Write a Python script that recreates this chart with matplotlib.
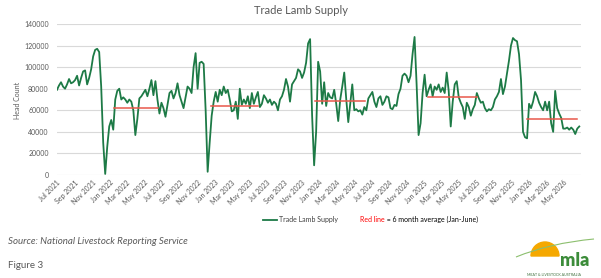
import matplotlib.pyplot as plt
import matplotlib.dates as mdates
from matplotlib.lines import Line2D
from matplotlib.patches import Wedge, PathPatch
from matplotlib.path import Path
import numpy as np
import pandas as pd

plt.rcParams['font.family'] = ['Lato', 'DejaVu Sans']

# weekly trade lamb supply (head), Jul 2021 - Jun 2026
fy22 = [79000, 83000, 86000, 82000, 80000, 84000, 89000, 85000, 86000, 88000,
        92000, 83000, 90000, 96000, 97000, 84000, 90000, 98000, 110000, 116000,
        117000, 114000, 82000, 30000, 1000, 26000, 45000, 51000, 42000, 70000,
        78000, 80000, 70000, 72000, 70000, 67000, 70000, 68000, 60000, 37000,
        52000, 71000, 73000, 76000, 79000, 73000, 80000, 88000, 74000, 87000,
        70000, 57000]
fy23 = [67000, 62000, 54000, 65000, 76000, 78000, 71000, 76000, 85000, 74000,
        68000, 62000, 72000, 82000, 80000, 76000, 100000, 113000, 80000, 104000,
        105000, 103000, 60000, 3000, 30000, 55000, 68000, 77000, 68000, 79000,
        74000, 82000, 76000, 79000, 70000, 59000, 60000, 68000, 52000, 80000,
        65000, 70000, 66000, 73000, 62000, 76000, 66000, 72000, 77000, 63000,
        66000, 74000]
fy24 = [71000, 67000, 70000, 65000, 68000, 66000, 60000, 70000, 73000, 79000,
        89000, 82000, 68000, 84000, 87000, 90000, 98000, 96000, 90000, 95000,
        104000, 122000, 126000, 55000, 9000, 40000, 105000, 96000, 66000, 86000,
        64000, 76000, 72000, 71000, 79000, 66000, 50000, 70000, 82000, 95000,
        70000, 49000, 67000, 84000, 60000, 61000, 59000, 60000, 56000, 63000,
        60000, 71000]
fy25 = [74000, 77000, 68000, 63000, 71000, 73000, 65000, 68000, 73000, 72000,
        62000, 61000, 65000, 64000, 75000, 80000, 92000, 94000, 92000, 86000,
        92000, 112000, 128000, 85000, 37000, 48000, 76000, 93000, 73000, 79000,
        84000, 73000, 82000, 79000, 84000, 77000, 81000, 76000, 95000, 78000,
        45000, 68000, 84000, 87000, 72000, 67000, 63000, 52000, 67000, 63000,
        55000, 61000]
fy26 = [65000, 76000, 71000, 67000, 68000, 62000, 59000, 61000, 60000, 63000,
        70000, 73000, 77000, 89000, 75000, 82000, 94000, 106000, 120000, 127000,
        125000, 124000, 112000, 88000, 40000, 35000, 34000, 66000, 62000, 68000,
        77000, 73000, 67000, 63000, 60000, 68000, 60000, 68000, 48000, 40000,
        78000, 62000, 57000, 53000, 43000, 43000, 44000, 42000, 44000, 42000,
        38000, 43000, 45000]
supply = fy22 + fy23 + fy24 + fy25 + fy26
weeks = pd.date_range('2021-07-01', periods=len(supply), freq='7D')

# Jan-June averages (red lines)
avg_start = pd.to_datetime(['2022-01-17', '2022-12-20', '2023-12-16', '2025-01-15', '2025-12-26'])
avg_end = pd.to_datetime(['2022-06-17', '2023-06-01', '2024-06-09', '2025-07-05', '2026-06-18'])
avg_value = [61900, 63700, 69000, 71900, 52200]

tick_dates = pd.date_range('2021-07-01', '2026-05-01', freq='2MS')
tick_labels = [d.strftime('%b %Y') for d in tick_dates]

W, H = 601, 278
fig = plt.figure(figsize=(W / 100, H / 100), dpi=100)
ax = fig.add_axes([57 / W, 1 - 175 / H, (581 - 57) / W, (175 - 24) / H])

ax.plot(weeks, supply, color='#1d7a46', lw=1.3, solid_joinstyle='round', zorder=3)
for s, e, v in zip(avg_start, avg_end, avg_value):
    ax.plot([s, e], [v, v], color='#e8574a', lw=1.1, zorder=4)

ax.set_xlim(pd.Timestamp('2021-07-01'), pd.Timestamp('2026-07-01'))
ax.set_ylim(0, 140000)
ax.set_yticks(range(0, 140001, 20000))
ax.set_yticklabels([str(v) for v in range(0, 140001, 20000)])
ax.set_xticks(tick_dates)
ax.set_xticklabels(tick_labels, rotation=45, ha='right', rotation_mode='anchor')
ax.tick_params(length=0, labelsize=5, colors='#595959')
ax.tick_params(axis='x', pad=3)
ax.tick_params(axis='y', pad=6)
ax.yaxis.grid(True, color='#d9d9d9', lw=0.8)
ax.set_axisbelow(True)
for sp in ax.spines.values():
    sp.set_visible(False)

fig.text(0.5, 1 - 11 / H, 'Trade Lamb Supply', ha='center', va='center',
         fontsize=8, color='#595959')
fig.text(18 / W, 1 - 100 / H, 'Head Count', rotation=90, ha='center', va='center',
         fontsize=5, color='#595959')

# legend
ly = 1 - 219.7 / H
fig.add_artist(Line2D([263 / W, 277 / W], [ly, ly], color='#1d7a46', lw=1.3,
                      transform=fig.transFigure))
fig.text(279 / W, ly, 'Trade Lamb Supply', va='center', fontsize=5, color='#404040')
red = fig.text(360 / W, ly, 'Red line', va='center', fontsize=5, color='#ff0000')
ax.annotate(' = 6 month average (Jan-June)', xy=(1, 0.5), xycoords=red,
            va='center', ha='left', fontsize=5, color='#000000')

fig.text(8 / W, 1 - 241 / H, 'Source: National Livestock Reporting Service',
         style='italic', fontsize=7, color='#595959', va='center')
fig.text(8 / W, 1 - 266 / H, 'Figure 3', fontsize=7, color='#595959', va='center')

# MLA logo
lg = fig.add_axes([510 / W, 0, 86 / W, 42 / H])
lg.set_xlim(0, 86)
lg.set_ylim(0, 42)
lg.axis('off')
lg.add_patch(Wedge((35, 22), 14, 0, 180, color='#f5a800'))
arc = Path([(6, 21), (40, 35), (84, 39)], [Path.MOVETO, Path.CURVE3, Path.CURVE3])
lg.add_patch(PathPatch(arc, fill=False, ec='#8cbf6e', lw=0.8))
lg.text(65, 17, 'mla', ha='center', va='center', fontsize=13, fontweight='heavy',
        color='#3c8c3a')
lg.text(44, 3, 'MEAT & LIVESTOCK AUSTRALIA', ha='center', va='center',
        fontsize=2.6, color='#3c6e3a')

fig.savefig('out.png', dpi=100)
